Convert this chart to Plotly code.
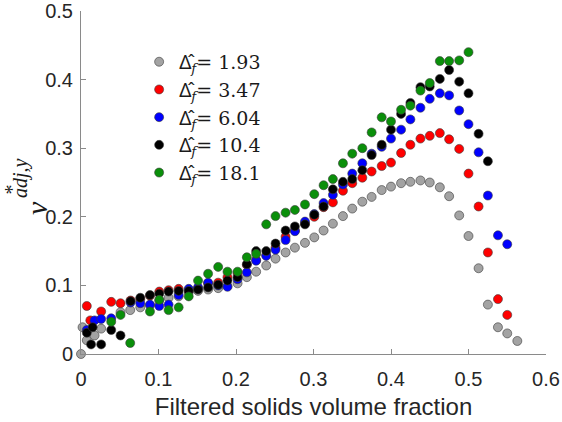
import plotly.graph_objects as go

# ---- data ----
labels = ["1.93", "3.47", "6.04", "10.4", "18.1"]
colors = ["#a3a3a3", "#ff0000", "#0000ff", "#000000", "#0a8f0a"]

x_ticks = [0, 0.1, 0.2, 0.3, 0.4, 0.5, 0.6]
x_ticktext = ["0", "0.1", "0.2", "0.3", "0.4", "0.5", "0.6"]
y_ticks = [0, 0.1, 0.2, 0.3, 0.4, 0.5]
y_ticktext = ["0", "0.1", "0.2", "0.3", "0.4", "0.5"]

x_193 = [0.000, 0.002, 0.0075, 0.0175, 0.026, 0.051, 0.0635, 0.0765, 0.089, 0.101,
         0.113, 0.126, 0.139, 0.151, 0.164, 0.177, 0.189, 0.202, 0.214, 0.226,
         0.239, 0.251, 0.264, 0.276, 0.289, 0.301, 0.313, 0.325, 0.338, 0.350,
         0.363, 0.375, 0.388, 0.400, 0.413, 0.425, 0.438, 0.450, 0.463, 0.475,
         0.488, 0.500, 0.513, 0.525, 0.538, 0.550, 0.563]
y_193 = [0.000, 0.039, 0.020, 0.027, 0.037, 0.061, 0.064, 0.068, 0.071, 0.078,
         0.082, 0.084, 0.090, 0.092, 0.094, 0.096, 0.099, 0.103, 0.112, 0.120,
         0.129, 0.139, 0.148, 0.155, 0.162, 0.170, 0.180, 0.190, 0.201, 0.212,
         0.222, 0.229, 0.239, 0.244, 0.249, 0.251, 0.253, 0.250, 0.243, 0.230,
         0.202, 0.172, 0.125, 0.072, 0.039, 0.030, 0.019]

x_347 = [0.0075, 0.012, 0.026, 0.039, 0.051, 0.064, 0.0765, 0.089, 0.101, 0.113,
         0.126, 0.139, 0.151, 0.164, 0.177, 0.189, 0.202, 0.214, 0.226, 0.239,
         0.251, 0.264, 0.276, 0.289, 0.301, 0.313, 0.325, 0.338, 0.350, 0.363,
         0.375, 0.388, 0.400, 0.413, 0.425, 0.438, 0.450, 0.463, 0.475, 0.488,
         0.500, 0.513, 0.525, 0.538, 0.550]
y_347 = [0.070, 0.049, 0.062, 0.076, 0.074, 0.078, 0.080, 0.085, 0.091, 0.093,
         0.095, 0.093, 0.096, 0.103, 0.104, 0.112, 0.118, 0.130, 0.137, 0.144,
         0.155, 0.171, 0.180, 0.190, 0.200, 0.214, 0.221, 0.238, 0.249, 0.257,
         0.266, 0.274, 0.279, 0.293, 0.305, 0.314, 0.318, 0.322, 0.313, 0.299,
         0.263, 0.215, 0.148, 0.080, 0.057]

x_604 = [0.0075, 0.0175, 0.026, 0.039, 0.064, 0.0765, 0.089, 0.101, 0.113, 0.126,
         0.139, 0.151, 0.164, 0.177, 0.189, 0.202, 0.214, 0.226, 0.239, 0.251,
         0.264, 0.276, 0.289, 0.301, 0.313, 0.325, 0.338, 0.350, 0.363, 0.375,
         0.388, 0.400, 0.413, 0.425, 0.438, 0.450, 0.463, 0.475, 0.488, 0.500,
         0.513, 0.525, 0.538, 0.550]
y_604 = [0.035, 0.049, 0.051, 0.052, 0.075, 0.074, 0.072, 0.070, 0.072, 0.086,
         0.095, 0.097, 0.104, 0.100, 0.098, 0.109, 0.119, 0.136, 0.143, 0.152,
         0.166, 0.179, 0.193, 0.204, 0.220, 0.232, 0.247, 0.263, 0.278, 0.292,
         0.302, 0.314, 0.327, 0.342, 0.359, 0.372, 0.380, 0.377, 0.355, 0.335,
         0.294, 0.231, 0.173, 0.160]

x_104 = [0.0075, 0.013, 0.015, 0.026, 0.039, 0.051, 0.064, 0.0765, 0.089, 0.101,
         0.113, 0.126, 0.139, 0.151, 0.164, 0.177, 0.189, 0.202, 0.214, 0.226,
         0.239, 0.251, 0.264, 0.276, 0.289, 0.301, 0.313, 0.325, 0.338, 0.350,
         0.363, 0.375, 0.388, 0.400, 0.413, 0.425, 0.438, 0.450, 0.463, 0.475,
         0.488, 0.500, 0.513, 0.525]
y_104 = [0.031, 0.014, 0.039, 0.014, 0.035, 0.027, 0.077, 0.082, 0.086, 0.088,
         0.091, 0.092, 0.092, 0.094, 0.097, 0.101, 0.107, 0.112, 0.131, 0.150,
         0.150, 0.161, 0.180, 0.186, 0.189, 0.203, 0.215, 0.240, 0.251, 0.255,
         0.268, 0.290, 0.305, 0.327, 0.350, 0.366, 0.389, 0.390, 0.401, 0.414,
         0.397, 0.380, 0.321, 0.281]

x_181 = [0.039, 0.051, 0.0635, 0.089, 0.101, 0.113, 0.126, 0.139, 0.151, 0.164,
         0.177, 0.189, 0.202, 0.214, 0.226, 0.239, 0.251, 0.264, 0.276, 0.289,
         0.301, 0.313, 0.325, 0.338, 0.350, 0.363, 0.375, 0.388, 0.400, 0.413,
         0.425, 0.438, 0.450, 0.463, 0.475, 0.488, 0.500]
y_181 = [0.047, 0.057, 0.016, 0.062, 0.079, 0.064, 0.068, 0.084, 0.107, 0.117,
         0.127, 0.120, 0.120, 0.141, 0.146, 0.189, 0.201, 0.206, 0.210, 0.218,
         0.233, 0.246, 0.255, 0.278, 0.292, 0.300, 0.323, 0.345, 0.339, 0.356,
         0.362, 0.384, 0.395, 0.427, 0.427, 0.428, 0.440]

xs = [x_193, x_347, x_604, x_104, x_181]
ys = [y_193, y_347, y_604, y_104, y_181]

SERIF = "DejaVu Serif, Liberation Serif, serif"
SANS = "Liberation Sans, Arial, sans-serif"

fig = go.Figure()
for xv, yv, lab, col in zip(xs, ys, labels, colors):
    fig.add_trace(go.Scatter(
        x=xv, y=yv, mode="markers",
        name="<span style='font-family:Noto Sans'>\u0394\u0302</span><sub><i>f</i></sub>= " + lab,
        marker=dict(size=9, color=col, line=dict(color="#3a3a3a", width=0.6)),
        cliponaxis=False,
    ))

axis_common = dict(
    showgrid=False, zeroline=False, showline=True, linecolor="#8a8a8a", linewidth=1,
    ticks="inside", ticklen=5, tickcolor="#8a8a8a", tickwidth=1,
    tickfont=dict(family=SANS, size=20, color="#262626"),
    tickmode="array", ticklabeloverflow="allow", automargin=False,
)

fig.update_layout(
    width=562, height=422,
    margin=dict(l=81, r=16, t=11, b=68, autoexpand=False),
    paper_bgcolor="white", plot_bgcolor="white",
    xaxis=dict(range=[0, 0.6], tickvals=x_ticks, ticktext=x_ticktext,
               ticklabelstandoff=7,
               title=dict(text="Filtered solids volume fraction",
                          font=dict(family=SANS, size=24, color="#262626"),
                          standoff=9),
               **axis_common),
    yaxis=dict(range=[0, 0.5], tickvals=y_ticks, ticktext=y_ticktext,
               ticklabelstandoff=3, **axis_common),
    showlegend=True,
    legend=dict(x=0.125, y=0.907, xanchor="left", yanchor="top",
                bgcolor="rgba(0,0,0,0)", borderwidth=0,
                font=dict(family=SERIF, size=19, color="#1a1a1a"),
                itemwidth=30, tracegroupgap=0),
)

# y-axis title v*_{adj,y}, built from rotated text pieces (pixel positions -> paper)
PW, PH = 465, 343
def px_to_paper(px, py):
    return (px - 81.5) / PW, (354 - py) / PH

for txt, (px, py), size in [("<i>v</i>", (18, 208), 30),
                            ("*", (-1, 190), 20),
                            ("<i>adj,y</i>", (7, 178), 20)]:
    ax, ay = px_to_paper(px, py)
    fig.add_annotation(text=txt, xref="paper", yref="paper", x=ax, y=ay,
                       showarrow=False, textangle=-90,
                       font=dict(family="Liberation Serif, serif", size=size, color="#1a1a1a"))

fig.write_html("out.html")
